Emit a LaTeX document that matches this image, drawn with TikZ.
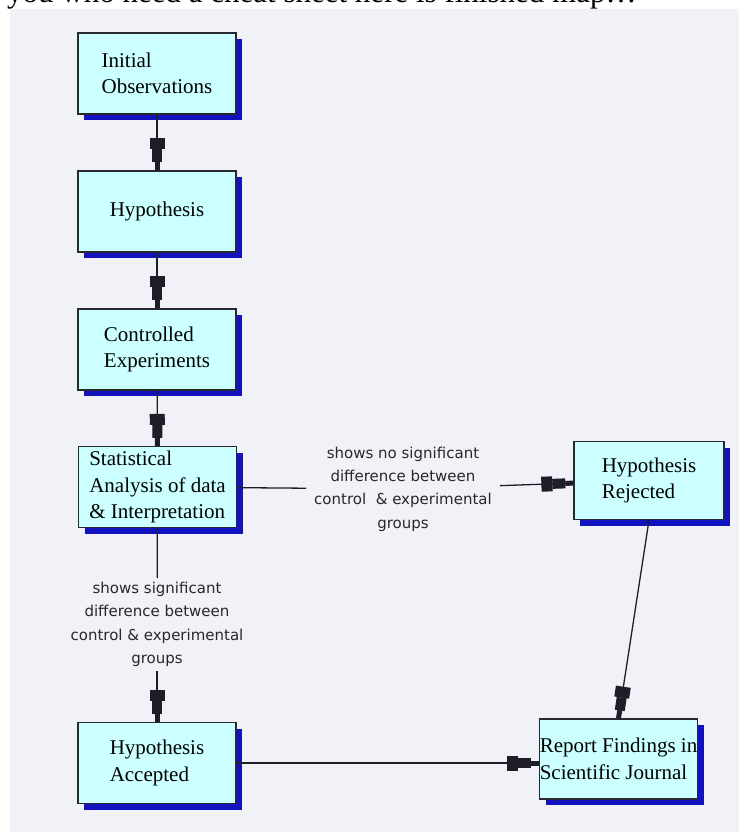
\documentclass[tikz,border=0pt]{standalone}
\usepackage{fontspec}
\setmainfont{Liberation Serif}
\newfontfamily\notefamily{DejaVu Sans}
\usetikzlibrary{arrows.meta,shadows}

\definecolor{pagebg}{RGB}{241,242,248}
\definecolor{boxfill}{RGB}{204,255,255}
\definecolor{boxline}{RGB}{40,40,48}
\definecolor{shadowblue}{RGB}{18,18,190}
\definecolor{linkcol}{RGB}{30,30,40}
\definecolor{notecol}{RGB}{40,40,40}

\tikzset{
  stage/.style={draw=boxline,line width=1.3pt,fill=boxfill,minimum width=158pt,minimum height=81pt,
    inner xsep=0pt,align=left,font=\fontsize{21}{26.5}\selectfont,
    general shadow={fill=shadowblue,shadow xshift=6pt,shadow yshift=-6pt}},
  note/.style={font=\notefamily\fontsize{15}{23.3}\selectfont,text=notecol,align=center,inner xsep=8pt,inner ysep=4pt},
  link/.style={draw=linkcol,line width=1.3pt},
  flow/.style={link,-{Rectangle[length=11pt,width=15pt,sep=0pt]Rectangle[length=13pt,width=10pt,sep=0pt]Rectangle[length=8pt,width=5pt,sep=0pt]}}
}

\begin{document}
\begin{tikzpicture}[x=1pt,y=-1pt]
\useasboundingbox (0,0) rectangle (739,832);
\fill[pagebg] (10,9) rectangle (739,832);
\node[anchor=base west,inner sep=0pt,font=\fontsize{31}{36}\selectfont] (intro) at (7,3) {you who need a cheat sheet here is finished map…};

% left column
\node[stage] (obs) at (157,73.5) {Initial\\Observations};
\node[stage] (hyp) at (157,211.5) {Hypothesis};
\node[stage] (exp) at (157,349.5) {Controlled\\Experiments};
\node[stage] (stat) at (157.5,487) {Statistical\\Analysis of data\\\& Interpretation};
\node[stage] (acc) at (157,763) {Hypothesis\\Accepted};

% right column
\node[stage,minimum width=150pt,minimum height=78pt] (rej) at (649,480.5) {Hypothesis\\Rejected};
\node[stage,minimum height=80pt] (rep) at (618.5,759) {Report Findings in\\Scientific Journal};

% edge texts
\node[note] (nolbl) at (403,489) {shows no significant\\difference between\\control~~\& experimental\\groups};
\node[note] (siglbl) at (157,624.5) {shows significant\\difference between\\control \& experimental\\groups};

\draw[flow] (obs) -- (hyp);
\draw[flow] (hyp) -- (exp);
\draw[flow] (exp) -- (stat);
\draw[link] (stat) -- (nolbl);
\draw[flow] (nolbl) -- (rej);
\draw[link] (stat) -- (siglbl);
\draw[flow] (siglbl) -- (acc);
\draw[flow] (rej.south) -- (rep.north);
\draw[flow] (acc.east) -- (acc.east -| rep.west);
\end{tikzpicture}
\end{document}
